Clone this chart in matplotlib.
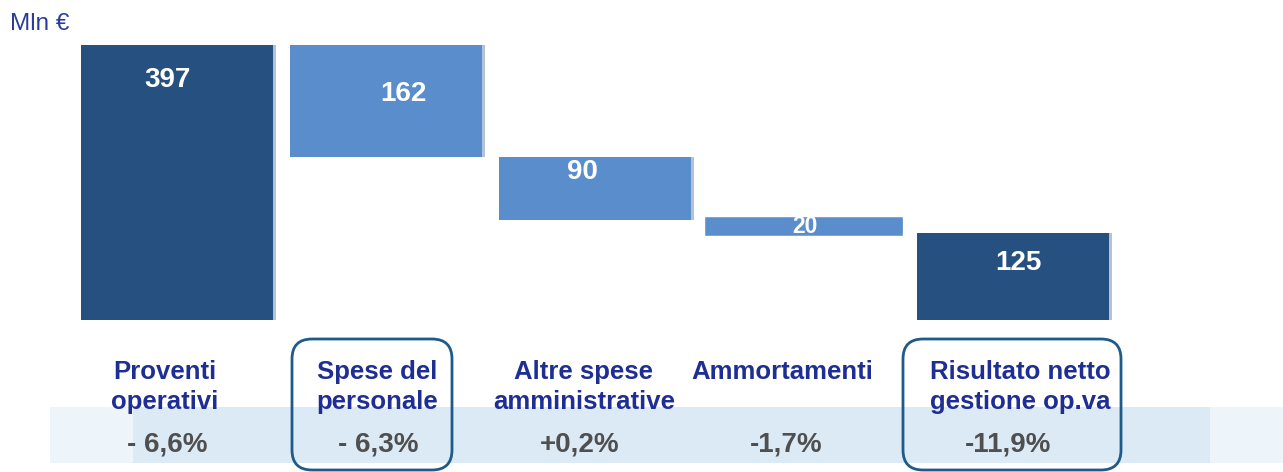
import matplotlib

matplotlib.use("Agg")
import matplotlib.pyplot as plt
from matplotlib.patches import FancyBboxPatch, Rectangle

plt.rcParams["font.family"] = ["Liberation Sans", "DejaVu Sans"]

# data
CATEGORIES = [
    "Proventi\noperativi",
    "Spese del\npersonale",
    "Altre spese\namministrative",
    "Ammortamenti",
    "Risultato netto\ngestione op.va",
]
STEPS = [397, -162, -90, -20]
TOTAL = 125
CHANGES = ["- 6,6%", "- 6,3%", "+0,2%", "-1,7%", "-11,9%"]
HIGHLIGHT = [1, 4]
UNIT = "Mln €"

# style
W, H = 1283, 472
DARK = "#26507F"
LIGHT = "#5A8DCB"
SHADOW = "#B4C2D6"
LABEL = "#1F2E93"
PCT = "#4F4F4F"
BOX = "#1E5A8A"
BAND = "#DCEAF5"
BAND_END = "#EDF4FA"
STEP_PX = 209

fig = plt.figure(figsize=(W / 100, H / 100), dpi=100)

# overlay in pixel coordinates for band, boxes and texts
ov = fig.add_axes([0, 0, 1, 1], zorder=0)
ov.set_xlim(0, W)
ov.set_ylim(H, 0)
ov.axis("off")

# bars axes: value 0 at pixel 320, top of first bar at pixel 45
ax = fig.add_axes([0, (H - 320) / H, 1, 275 / H], zorder=1)
ax.set_xlim(-177 / STEP_PX, (W - 177) / STEP_PX)
ax.set_ylim(0, STEPS[0])
ax.axis("off")
px_y = STEPS[0] / 275  # data units per pixel

# waterfall geometry from the data
bottoms, heights, colors = [], [], []
running = 0
for k, s in enumerate(STEPS):
    if s >= 0:
        bottoms.append(running)
        heights.append(s)
    else:
        bottoms.append(running + s)
        heights.append(-s)
    running += s
    colors.append(DARK if k == 0 else LIGHT)
bottoms.append(0)
heights.append(TOTAL)
colors.append(DARK)

x = list(range(len(CATEGORIES)))
# very thin bars get a little padding so the white label stays readable
pad = [4 if h < 30 else 0 for h in heights]
ax.bar([i + 3 / STEP_PX for i in x], heights, bottom=bottoms, width=0.915,
       color=SHADOW, zorder=1)
ax.bar(x, heights, bottom=bottoms, width=0.915, color=colors,
       edgecolor=colors, linewidth=pad, zorder=2)

# value labels inside bars
value_dx = [-9, 17, -13, 1, 5]
value_dy = [0, 14, -16, 0, -5]
for i in x:
    top = bottoms[i] + heights[i]
    y = top - min(heights[i] / 2, 50) - value_dy[i] * px_y
    ax.text(i + value_dx[i] / STEP_PX, y, str(heights[i]),
            ha="center", va="center", color="white",
            fontsize=16.5 if heights[i] < 30 else 20,
            fontweight="bold", zorder=3)

# light band behind the change percentages
ov.add_patch(Rectangle((50, 407), 83, 56, color=BAND_END, lw=0))
ov.add_patch(Rectangle((133, 407), 1077, 56, color=BAND, lw=0))
ov.add_patch(Rectangle((1210, 407), 73, 56, color=BAND_END, lw=0))

fig.canvas.draw()
centers = [ax.transData.transform((i, 0))[0] for i in x]

label_dx = [-12, -9, -11, -22, 7]
pct_dx = [-10, -8, -15, -18, -5]
for i, (cat, chg) in enumerate(zip(CATEGORIES, CHANGES)):
    nlines = cat.count("\n") + 1
    ov.text(centers[i] + label_dx[i], 372 + 15 * (nlines - 1), cat,
            ha="center", va="center", color=LABEL, fontsize=18.5,
            fontweight="bold", linespacing=1.35, zorder=3)
    ov.text(centers[i] + pct_dx[i], 445, chg, ha="center", va="center",
            color=PCT, fontsize=20, fontweight="bold", zorder=3)

box_width = {1: 160, 4: 218}
box_dx = {1: -14, 4: -1}
for i in HIGHLIGHT:
    w = box_width[i]
    cx = centers[i] + box_dx[i]
    ov.add_patch(FancyBboxPatch((cx - w / 2, 339), w, 131,
                                boxstyle="round,pad=0,rounding_size=20",
                                fc="none", ec=BOX, lw=2.0, zorder=4))

ov.text(10, 24, UNIT, ha="left", va="center", color="#2A3C9C", fontsize=17.5)

fig.savefig("out.png", dpi=100)
